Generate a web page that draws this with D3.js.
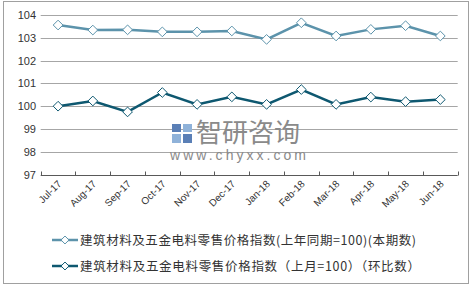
<!DOCTYPE html>
<html>
<head>
<meta charset="utf-8">
<script src="https://cdn.jsdelivr.net/npm/d3@7"></script>
<style>
  body { margin: 0; background: #fff; }
  text { font-family: "Liberation Sans", Arial, sans-serif; }
</style>
</head>
<body>
<script>
const width = 476;
const height = 288;

// chart data
const months = ['Jul-17','Aug-17','Sep-17','Oct-17','Nov-17','Dec-17','Jan-18','Feb-18','Mar-18','Apr-18','May-18','Jun-18'];
const yoyValues = [103.56, 103.34, 103.35, 103.26, 103.26, 103.3, 102.93, 103.66, 103.08, 103.37, 103.53, 103.08];
const momValues = [100.0, 100.23, 99.75, 100.6, 100.08, 100.41, 100.08, 100.73, 100.08, 100.4, 100.2, 100.29];
const yTicks = [97, 98, 99, 100, 101, 102, 103, 104];
const seriesNames = ['建筑材料及五金电料零售价格指数(上年同期=100)(本期数)', '建筑材料及五金电料零售价格指数（上月=100）（环比数）'];
const seriesColors = ['#5c93ab', '#0e5870'];

const svg = d3.select('body')
  .append('svg')
  .attr('width', width)
  .attr('height', height);

// outer frame
svg.append('rect')
  .attr('x', 3.5).attr('y', 1.5)
  .attr('width', 465).attr('height', 282)
  .attr('fill', '#fff')
  .attr('stroke', '#a0a0a0');

const x = d3.scaleBand().domain(months).range([40.7, 457.7]);
const y = d3.scaleLinear().domain([97, 104]).range([174.6, 15]);

// gridlines
svg.append('g')
  .selectAll('line')
  .data(yTicks.filter(d => d > 97))
  .enter()
  .append('line')
  .attr('x1', 40.7).attr('x2', 457.7)
  .attr('y1', d => Math.round(y(d)) + 0.5)
  .attr('y2', d => Math.round(y(d)) + 0.5)
  .attr('stroke', '#a6a6a6')
  .attr('stroke-width', 1);

// y labels
svg.append('g')
  .selectAll('text')
  .data(yTicks)
  .enter()
  .append('text')
  .attr('x', 36)
  .attr('y', d => y(d) + 4)
  .attr('text-anchor', 'end')
  .attr('font-size', 11)
  .attr('fill', '#333')
  .text(d => d);

// watermark
const wm = svg.append('g');
wm.append('rect').attr('x', 172).attr('y', 124).attr('width', 9).attr('height', 8).attr('fill', '#5a7fb6');
wm.append('rect').attr('x', 172).attr('y', 134).attr('width', 9).attr('height', 9).attr('fill', '#8fb2d9');
wm.append('rect').attr('x', 183).attr('y', 124).attr('width', 9).attr('height', 8).attr('fill', '#8fb2d9');
wm.append('rect').attr('x', 183).attr('y', 134).attr('width', 9).attr('height', 9).attr('fill', '#5a7fb6');
wm.append('text')
  .attr('x', 196).attr('y', 142)
  .attr('font-size', 26)
  .attr('fill', '#8a8a8a')
  .style('font-family', '"Noto Sans CJK SC", sans-serif')
  .text('智研咨询');
wm.append('text')
  .attr('x', 170).attr('y', 160)
  .attr('font-size', 14)
  .attr('textLength', 136)
  .attr('lengthAdjust', 'spacing')
  .attr('fill', '#8a8a8a')
  .text('www.chyxx.com');

// x axis
const axisY = Math.round(y(97)) + 0.5;
svg.append('line')
  .attr('x1', 40.7).attr('x2', 457.7)
  .attr('y1', axisY).attr('y2', axisY)
  .attr('stroke', '#595959');
svg.append('g')
  .selectAll('line')
  .data(d3.range(months.length + 1))
  .enter()
  .append('line')
  .attr('x1', i => Math.round(40.7 + i * x.step()) + 0.5)
  .attr('x2', i => Math.round(40.7 + i * x.step()) + 0.5)
  .attr('y1', axisY).attr('y2', axisY - 4)
  .attr('stroke', '#595959');

svg.append('g')
  .selectAll('text')
  .data(months)
  .enter()
  .append('text')
  .attr('transform', d => `translate(${x(d) + x.bandwidth() / 2 + 4},${axisY + 9}) rotate(-45)`)
  .attr('text-anchor', 'end')
  .attr('font-size', 10)
  .attr('fill', '#333')
  .text(d => d);

// lines and markers
const line = d3.line()
  .x((d, i) => x(months[i]) + x.bandwidth() / 2)
  .y(d => y(d));

const diamond = d3.symbol().type(d3.symbolDiamond2).size(60);

[yoyValues, momValues].forEach((vals, k) => {
  svg.append('path')
    .datum(vals)
    .attr('d', line)
    .attr('fill', 'none')
    .attr('stroke', seriesColors[k])
    .attr('stroke-width', 2.5);
  svg.append('g')
    .selectAll('path')
    .data(vals)
    .enter()
    .append('path')
    .attr('d', diamond)
    .attr('transform', (d, i) => `translate(${x(months[i]) + x.bandwidth() / 2},${y(d)})`)
    .attr('fill', '#fff')
    .attr('stroke', seriesColors[k])
    .attr('stroke-width', 1);
});

// legend
const legendWidths = [336, 340];
const legend = svg.append('g');
seriesNames.forEach((name, k) => {
  const ly = 240 + k * 26;
  legend.append('line')
    .attr('x1', 52).attr('x2', 78)
    .attr('y1', ly).attr('y2', ly)
    .attr('stroke', seriesColors[k])
    .attr('stroke-width', 2.5);
  legend.append('path')
    .attr('d', d3.symbol().type(d3.symbolDiamond2).size(40))
    .attr('transform', `translate(65,${ly})`)
    .attr('fill', '#fff')
    .attr('stroke', seriesColors[k]);
  legend.append('text')
    .attr('x', 80).attr('y', ly + 4.5)
    .attr('font-size', 12.5)
    .attr('textLength', legendWidths[k])
    .attr('lengthAdjust', 'spacing')
    .attr('fill', '#333')
    .style('font-family', '"Noto Sans CJK SC", sans-serif')
    .text(name);
});
</script>
</body>
</html>
